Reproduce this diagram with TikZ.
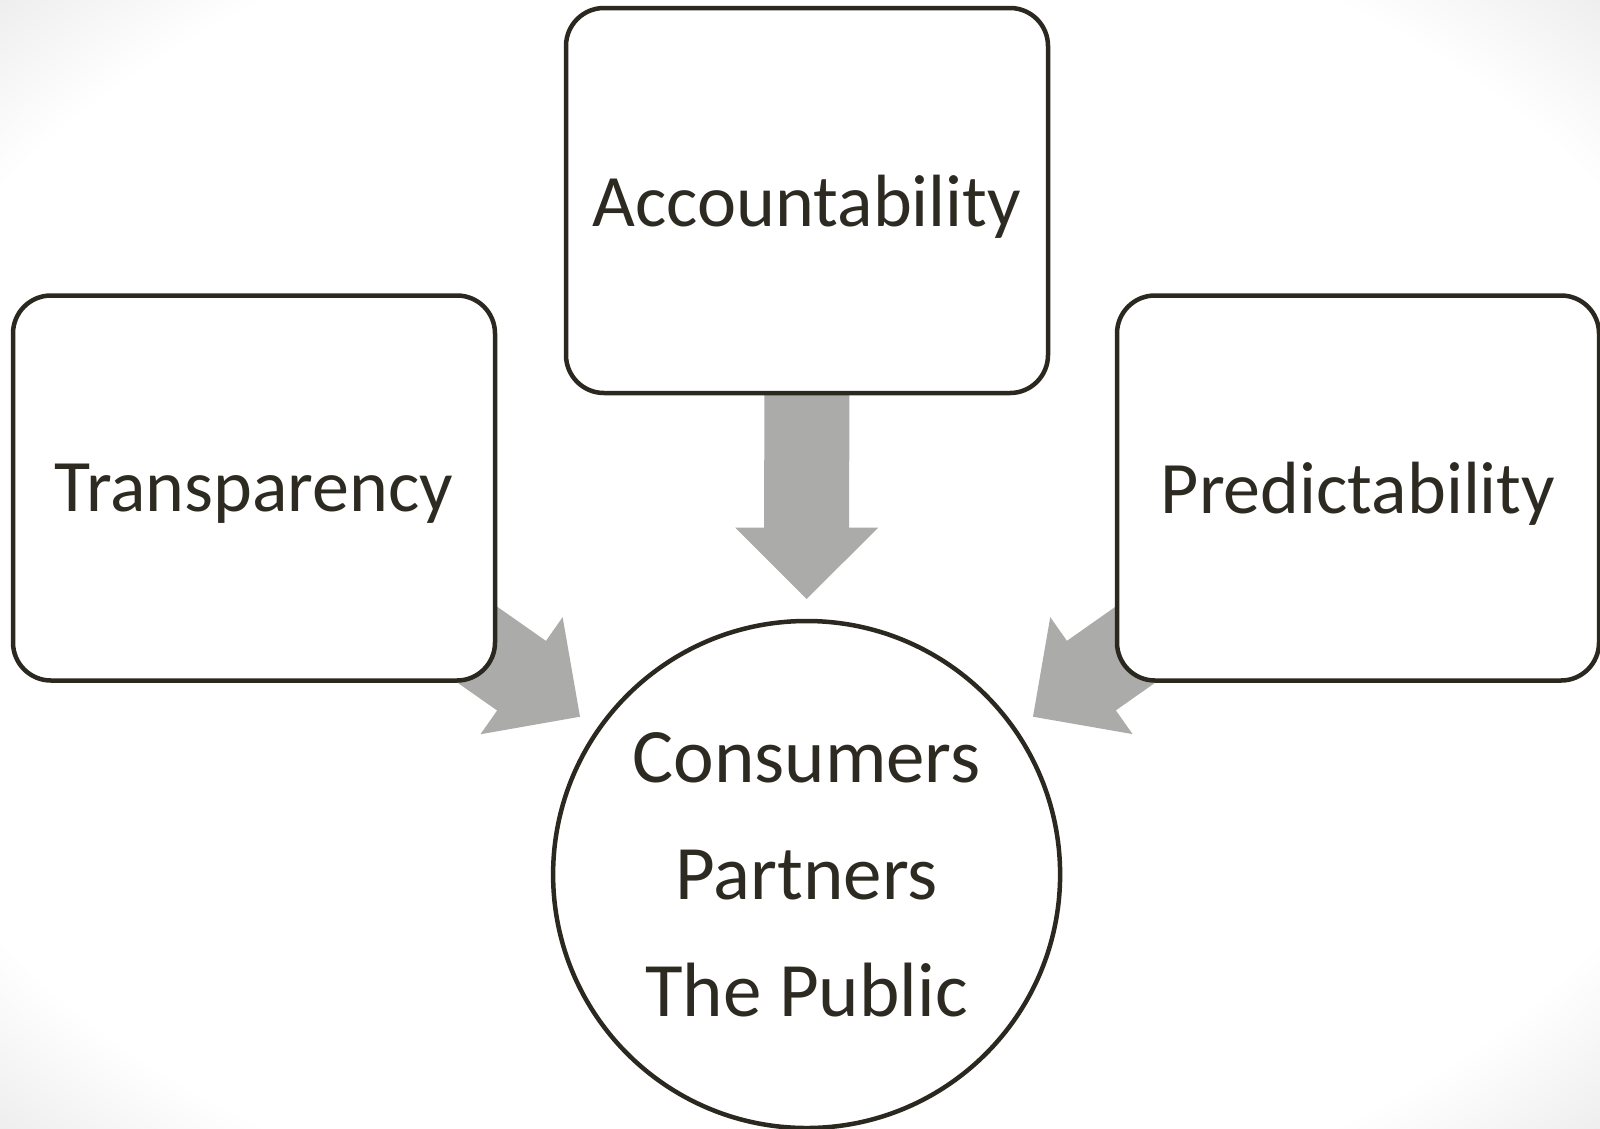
\documentclass[tikz,border=0pt]{standalone}
\usepackage{fontspec}
\setmainfont{Carlito}
\usetikzlibrary{calc}
\definecolor{inkc}{HTML}{2D2A22}
\definecolor{linec}{HTML}{2B2820}
\definecolor{arrowgray}{HTML}{ABABAA}
\definecolor{vig}{HTML}{ECECEC}
\pgfdeclarelayer{bglayer}
\pgfdeclarelayer{arrlayer}
\pgfsetlayers{bglayer,arrlayer,main}
\pgfdeclareradialshading{vignette}{\pgfpoint{0bp}{0bp}}{color(0bp)=(white); color(30bp)=(white); color(36bp)=(vig); color(50bp)=(vig)}
\tikzset{
  box/.style={draw=linec, line width=4.5pt, fill=white, rounded corners=38pt,
    minimum width=482pt, minimum height=385pt, inner sep=0pt, text=inkc,
    text depth=0pt, font=\fontsize{74}{117}\selectfont},
  hub/.style={draw=linec, line width=4.5pt, fill=white, circle, minimum size=507pt,
    inner sep=0pt, text=inkc, align=center, font=\fontsize{77}{117}\selectfont},
  arrowshaft/.style={draw=arrowgray, line width=85pt, line cap=butt},
}
\newcommand\blockarrow[3]{%
  \coordinate (#3n) at ($(#2)!71.4pt!(#1)$);
  \coordinate (#3e) at ($(#2)!60pt!(#1)$);
  \draw[arrowshaft] (#1) -- (#3e);
  \fill[arrowgray] ($(#3n)!71.5pt!90:(#2)$) -- (#2) -- ($(#3n)!71.5pt!-90:(#2)$) -- cycle;}
\begin{document}
\begin{tikzpicture}[x=1pt,y=-1pt]
\useasboundingbox (0,0) rectangle (1600,1128);
\node[box] (acc) at (807,200.5) {Accountability};
\node[box] (trans) at (254,488) {Transparency};
\node[box] (pred) at (1358,488) {Predictability};
\node[hub] (pub) at (806.6,874.5) {Consumers\\Partners\\The Public};
\coordinate (tipT) at (806.6,599);
\coordinate (tipL) at (580,716.7);
\coordinate (tipR) at (1033,716.7);
\begin{pgfonlayer}{bglayer}
\shade[shading=vignette] (0,0) rectangle (1600,1128);
\end{pgfonlayer}
\begin{pgfonlayer}{arrlayer}
\blockarrow{acc.center}{tipT}{aT}
\blockarrow{trans.center}{tipL}{aL}
\blockarrow{pred.center}{tipR}{aR}
\end{pgfonlayer}
\end{tikzpicture}
\end{document}
